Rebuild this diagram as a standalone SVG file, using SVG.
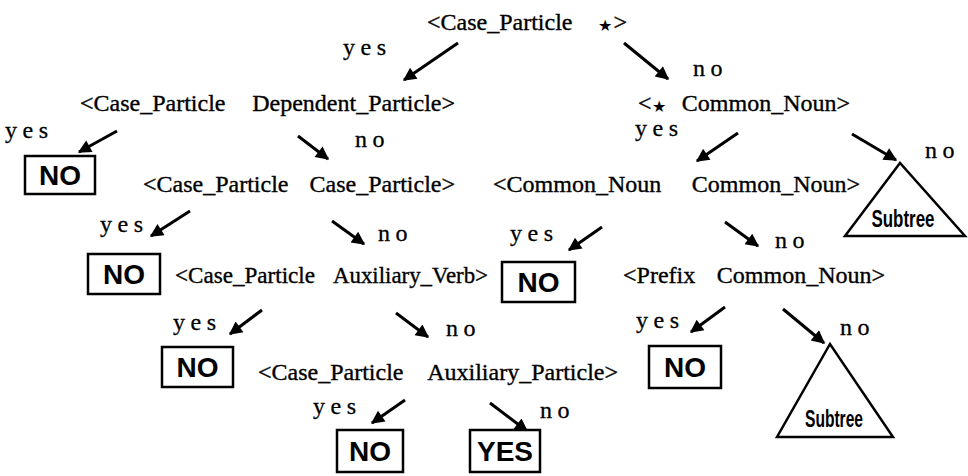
<svg xmlns="http://www.w3.org/2000/svg" width="968" height="476" viewBox="0 0 968 476">
<defs>
<marker id="ah" viewBox="0 0 10 10" refX="9" refY="5" markerWidth="5.2" markerHeight="4.4" orient="auto" markerUnits="strokeWidth">
<path d="M0,0 L10,5 L0,10 z" fill="#000"/>
</marker>
<style>
.t{font-family:"Liberation Serif","Times New Roman",serif;font-size:24px;fill:#000;stroke:#000;stroke-width:0.35}
.e{text-anchor:end}
.l{font-family:"Liberation Serif","Times New Roman",serif;font-size:24px;letter-spacing:5.5px;fill:#000;stroke:#000;stroke-width:0.3}
.s{font-family:"DejaVu Sans",sans-serif;font-size:16px;fill:#000}
.b{fill:#fff;stroke:#000;stroke-width:2.5}
.bt{font-family:"Liberation Sans",Arial,sans-serif;font-weight:bold;font-size:28px;text-anchor:middle;fill:#000}
.tri{fill:#fff;stroke:#000;stroke-width:2.5;stroke-linejoin:miter}
.st{font-family:"Liberation Sans",Arial,sans-serif;font-weight:bold;font-size:24px;text-anchor:middle;fill:#000}
.a{stroke:#000;stroke-width:3;fill:none;marker-end:url(#ah)}
</style>
</defs>
<rect width="968" height="476" fill="#fff"/>

<g id="connectors">
<line class="a" x1="458" y1="43" x2="404" y2="80"/>
<line class="a" x1="624" y1="43" x2="668" y2="79"/>
<line class="a" x1="117" y1="131" x2="79" y2="152"/>
<line class="a" x1="298" y1="136" x2="328" y2="159"/>
<line class="a" x1="738" y1="133" x2="697" y2="161"/>
<line class="a" x1="852" y1="134" x2="896" y2="160"/>
<line class="a" x1="190" y1="211" x2="151" y2="236"/>
<line class="a" x1="332" y1="221" x2="364" y2="244"/>
<line class="a" x1="602" y1="227" x2="569" y2="250"/>
<line class="a" x1="725" y1="222" x2="758" y2="246"/>
<line class="a" x1="262" y1="310" x2="230" y2="334"/>
<line class="a" x1="396" y1="313" x2="428" y2="337"/>
<line class="a" x1="725" y1="307" x2="691" y2="332"/>
<line class="a" x1="783" y1="309" x2="824" y2="343"/>
<line class="a" x1="405" y1="400" x2="372" y2="423"/>
<line class="a" x1="490" y1="403" x2="527" y2="431"/>
<text class="l" x="343" y="55">yes</text>
<text class="l" x="693" y="76">no</text>
<text class="l" x="5" y="138">yes</text>
<text class="l" x="355" y="147">no</text>
<text class="l" x="635" y="136">yes</text>
<text class="l" x="925" y="158">no</text>
<text class="l" x="100" y="232">yes</text>
<text class="l" x="378" y="241">no</text>
<text class="l" x="510" y="241">yes</text>
<text class="l" x="775" y="248">no</text>
<text class="l" x="173" y="330">yes</text>
<text class="l" x="446" y="336">no</text>
<text class="l" x="636" y="328">yes</text>
<text class="l" x="840" y="335">no</text>
<text class="l" x="313" y="414">yes</text>
<text class="l" x="540" y="418">no</text>
</g>

<g id="n0">
<text class="t" x="427" y="30">&lt;Case_Particle</text>
<text class="s" x="598" y="31">★</text>
<text class="t e" x="627" y="30">&gt;</text>
</g>
<g id="n1">
<text class="t" x="80" y="111">&lt;Case_Particle</text>
<text class="t e" x="455" y="111">Dependent_Particle&gt;</text>
</g>
<g id="n2">
<text class="t" x="638" y="111">&lt;</text>
<text class="s" x="652" y="112">★</text>
<text class="t e" x="850" y="111">Common_Noun&gt;</text>
</g>
<g id="leaf1">
<rect class="b" x="25" y="156" width="70" height="38"/>
<text class="bt" x="60" y="185">NO</text>
</g>
<g id="n3">
<text class="t" x="143" y="192">&lt;Case_Particle</text>
<text class="t e" x="455" y="192">Case_Particle&gt;</text>
</g>
<g id="n4">
<text class="t" x="493" y="192">&lt;Common_Noun</text>
<text class="t e" x="860" y="192">Common_Noun&gt;</text>
</g>
<g id="sub1">
<polygon class="tri" points="900,163 845,236 965,236"/>
<text class="st" x="903" y="227" textLength="63" lengthAdjust="spacingAndGlyphs">Subtree</text>
</g>
<g id="leaf2">
<rect class="b" x="88" y="254" width="72" height="40"/>
<text class="bt" x="124" y="284">NO</text>
</g>
<g id="n5">
<text class="t" x="175" y="283" textLength="140" lengthAdjust="spacingAndGlyphs">&lt;Case_Particle</text>
<text class="t" x="333" y="283" textLength="155" lengthAdjust="spacingAndGlyphs">Auxiliary_Verb&gt;</text>
</g>
<g id="leaf3">
<rect class="b" x="502" y="262" width="73" height="40"/>
<text class="bt" x="538.5" y="292">NO</text>
</g>
<g id="n6">
<text class="t" x="623" y="283">&lt;Prefix</text>
<text class="t e" x="885" y="283">Common_Noun&gt;</text>
</g>
<g id="leaf4">
<rect class="b" x="162" y="347" width="71" height="40"/>
<text class="bt" x="197.5" y="377">NO</text>
</g>
<g id="n7">
<text class="t" x="258" y="380">&lt;Case_Particle</text>
<text class="t e" x="618" y="380">Auxiliary_Particle&gt;</text>
</g>
<g id="leaf5">
<rect class="b" x="649" y="346" width="72" height="42"/>
<text class="bt" x="685" y="377">NO</text>
</g>
<g id="sub2">
<polygon class="tri" points="830,344 777,437 893,437"/>
<text class="st" x="834" y="427" textLength="58" lengthAdjust="spacingAndGlyphs">Subtree</text>
</g>
<g id="leaf6">
<rect class="b" x="337" y="430" width="66" height="42"/>
<text class="bt" x="370" y="461">NO</text>
</g>
<g id="leaf7">
<rect class="b" x="470" y="430" width="70" height="42"/>
<text class="bt" x="505" y="461">YES</text>
</g>
</svg>
